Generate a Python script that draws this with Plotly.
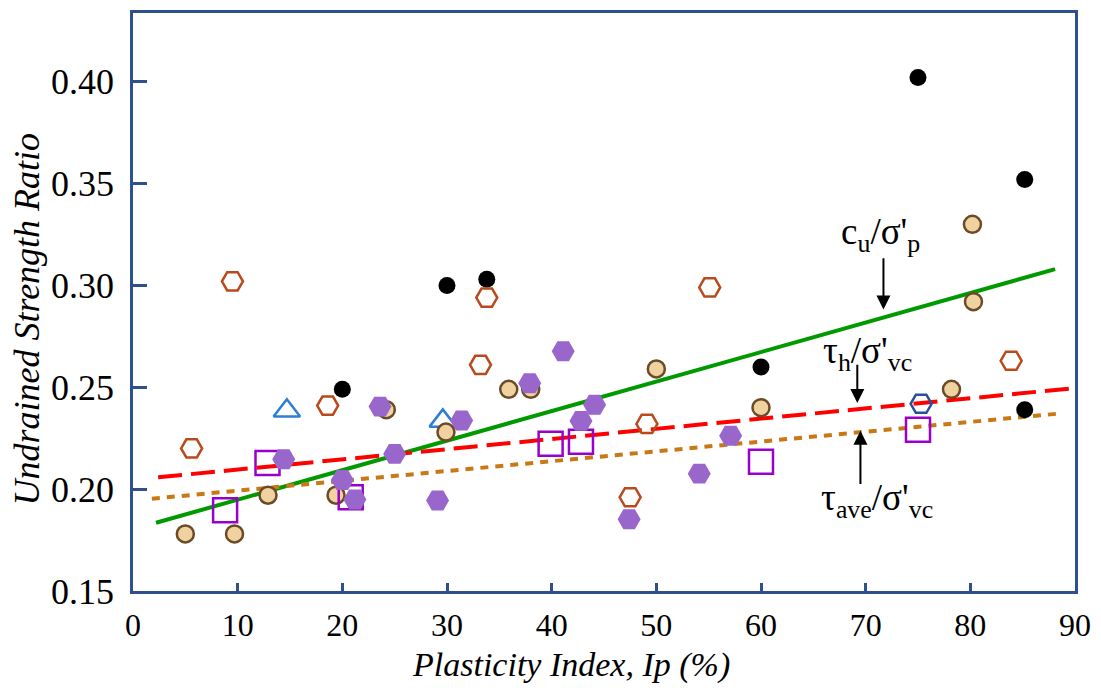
import plotly.graph_objects as go

# ---- data ----
black_x = [20, 30, 33.8, 60, 75, 85.2, 85.2]
black_y = [0.249, 0.300, 0.303, 0.260, 0.402, 0.352, 0.239]

tan_x = [5.0, 9.7, 12.9, 19.4, 24.2, 29.9, 35.9, 38.0, 50.0, 60.0, 78.2, 80.2, 80.3]
tan_y = [0.178, 0.178, 0.197, 0.197, 0.239, 0.228, 0.249, 0.249, 0.259, 0.240, 0.249, 0.330, 0.292]

brownhex_x = [5.6, 9.5, 18.6, 33.2, 33.8, 47.5, 49.1, 55.1, 83.9]
brownhex_y = [0.220, 0.302, 0.241, 0.261, 0.294, 0.196, 0.232, 0.299, 0.263]

purplehex_x = [14.4, 20.0, 21.2, 23.6, 25.0, 29.1, 31.4, 37.9, 41.1, 42.8, 44.1, 47.4, 54.1, 57.1]
purplehex_y = [0.2147, 0.2045, 0.1949, 0.2405, 0.2173, 0.1944, 0.2337, 0.2520, 0.2677, 0.2335, 0.2414, 0.1852, 0.2076, 0.2262]

square_x = [8.8, 12.85, 20.8, 39.9, 42.8, 60.0, 75.0]
square_y = [0.1896, 0.2128, 0.1960, 0.2223, 0.2232, 0.2135, 0.2291]

tri_x = [14.7, 29.6]
tri_y = [0.2385, 0.2335]

navyhex_x = [75.3]
navyhex_y = [0.2419]

green_x = [2.2, 88.1]
green_y = [0.1835, 0.308]
red_x = [2.4, 90.0]
red_y = [0.2058, 0.2496]
orange_x = [1.8, 88.3]
orange_y = [0.1953, 0.237]

x_ticks = [0, 10, 20, 30, 40, 50, 60, 70, 80, 90]
y_ticks = [0.15, 0.20, 0.25, 0.30, 0.35, 0.40]

FONT = "Liberation Serif"
FRAME = "#2f4f8f"

fig = go.Figure()

fig.add_trace(go.Scatter(x=green_x, y=green_y, mode="lines",
                         line=dict(color="#009a00", width=4)))
fig.add_trace(go.Scatter(x=red_x, y=red_y, mode="lines",
                         line=dict(color="#ff0000", width=4, dash="24px,9px")))
fig.add_trace(go.Scatter(x=orange_x, y=orange_y, mode="lines",
                         line=dict(color="#c87814", width=4, dash="8px,7px")))

fig.add_trace(go.Scatter(x=tri_x, y=tri_y, mode="markers",
                         marker=dict(symbol="triangle-up-open", size=23, color="#2d7fd3",
                                     line=dict(color="#2d7fd3", width=2.5))))
fig.add_trace(go.Scatter(x=tan_x, y=tan_y, mode="markers",
                         marker=dict(symbol="circle", size=17, color="#f0d2a0",
                                     line=dict(color="#6b4a26", width=2.5))))
fig.add_trace(go.Scatter(x=square_x, y=square_y, mode="markers",
                         marker=dict(symbol="square-open", size=24, color="#9a00cc",
                                     line=dict(color="#9a00cc", width=2.5))))
fig.add_trace(go.Scatter(x=black_x, y=black_y, mode="markers",
                         marker=dict(symbol="circle", size=17, color="#000000",
                                     line=dict(width=0))))
fig.add_trace(go.Scatter(x=brownhex_x, y=brownhex_y, mode="markers",
                         marker=dict(symbol="hexagon2-open", size=21, color="#b84a1c",
                                     line=dict(color="#b84a1c", width=2.5))))
fig.add_trace(go.Scatter(x=purplehex_x, y=purplehex_y, mode="markers",
                         marker=dict(symbol="hexagon2", size=23, color="#9966cc",
                                     line=dict(width=0))))
fig.add_trace(go.Scatter(x=navyhex_x, y=navyhex_y, mode="markers",
                         marker=dict(symbol="hexagon2-open", size=21, color="#2a4f9a",
                                     line=dict(color="#2a4f9a", width=2.5))))

def px_x(p):
    return (p - 133) / 952

def px_y(p):
    return (591 - p) / 581

annos = []
for (tx, ty, txt) in [(888, 233, "c<sub>u</sub>/σ'<sub>p</sub>"),
                      (875, 352, "τ<sub>h</sub>/σ'<sub>vc</sub>"),
                      (885, 500, "τ<sub>ave</sub>/σ'<sub>vc</sub>")]:
    annos.append(dict(x=px_x(tx), y=px_y(ty), xref="paper", yref="paper",
                      xanchor="center", yanchor="middle",
                      text=txt, showarrow=False,
                      font=dict(family=FONT, size=37, color="black")))
for (hx, hy, tx, ty) in [(71.7, 0.2882, 71.7, 0.3141),
                         (69.2, 0.2423, 69.2, 0.2618),
                         (69.5, 0.2286, 69.5, 0.2018)]:
    annos.append(dict(x=hx, y=hy, ax=tx, ay=ty, xref="x", yref="y", axref="x", ayref="y",
                      text="", showarrow=True, arrowhead=2, arrowsize=1.4,
                      arrowwidth=2, arrowcolor="black"))
annos.append(dict(x=px_x(576), y=px_y(665), xref="paper", yref="paper",
                  xanchor="center", yanchor="middle",
                  text="<i>Plasticity Index, Ip (%)</i>", showarrow=False,
                  font=dict(family=FONT, size=34, color="black")))
annos.append(dict(x=px_x(26), y=px_y(318), xref="paper", yref="paper",
                  xanchor="center", yanchor="middle",
                  text="<i>Undrained Strength Ratio</i>", showarrow=False, textangle=-90,
                  font=dict(family=FONT, size=36, color="black")))

fig.update_layout(
    width=1101, height=688,
    margin=dict(l=133, r=16, t=10, b=97),
    paper_bgcolor="white", plot_bgcolor="white",
    showlegend=False,
    annotations=annos,
    font=dict(family=FONT, color="black"),
)
fig.update_xaxes(range=[0, 90], tickvals=x_ticks, ticks="inside", ticklen=8,
                 tickwidth=2.5, tickcolor=FRAME, showline=True, linecolor=FRAME,
                 linewidth=2.5, mirror=True, showgrid=False, zeroline=False,
                 ticklabelstandoff=4, ticklabeloverflow="allow",
                 tickfont=dict(family=FONT, size=32, color="black"))
fig.update_yaxes(range=[0.15, 0.4337], tickvals=y_ticks, tickformat=".2f",
                 ticks="inside", ticklen=14, tickwidth=2.5, tickcolor=FRAME,
                 showline=True, linecolor=FRAME, linewidth=2.5, mirror=True,
                 showgrid=False, zeroline=False,
                 ticklabelstandoff=9, ticklabeloverflow="allow",
                 tickfont=dict(family=FONT, size=36, color="black"))

fig.write_html("out.html", config={"displayModeBar": False},
               post_script="document.body.style.margin='0';document.body.style.overflow='hidden';")
